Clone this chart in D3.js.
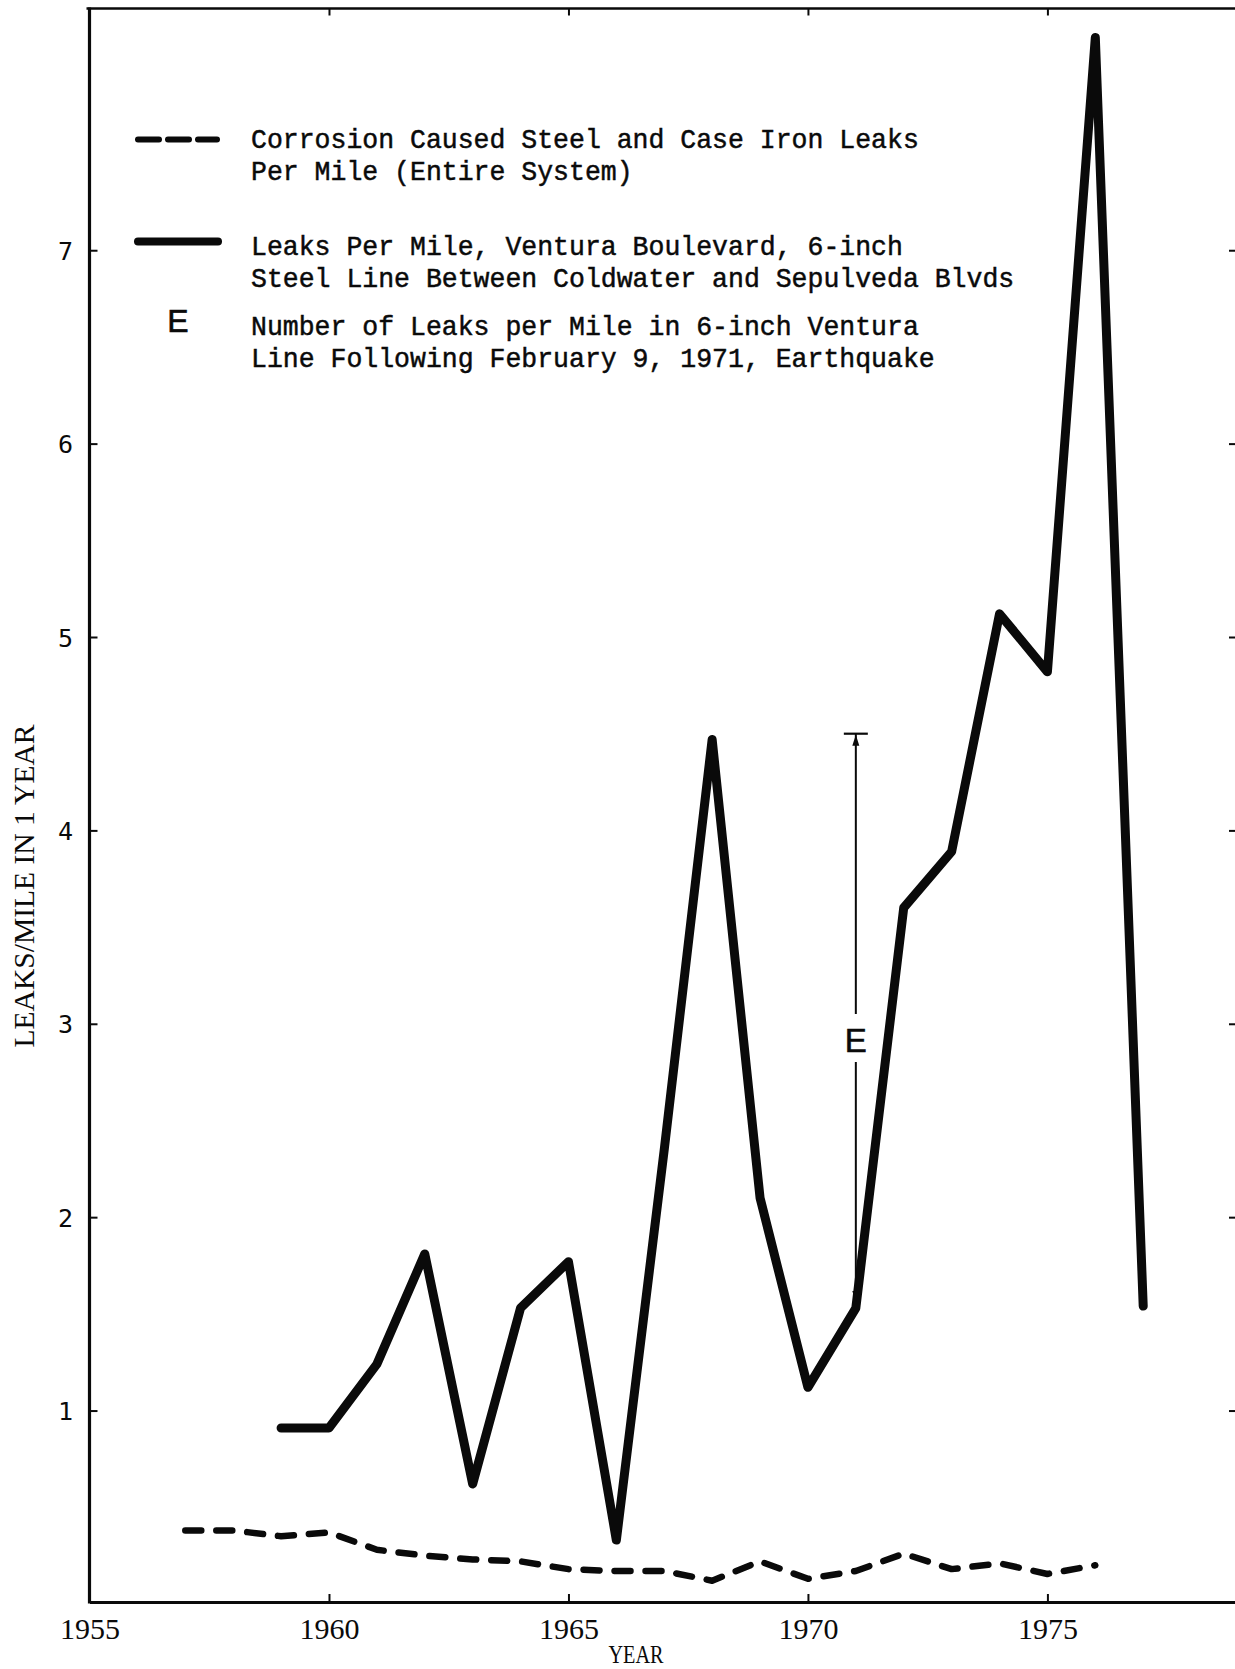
<!DOCTYPE html>
<html>
<head>
<meta charset="utf-8">
<script src="https://cdn.jsdelivr.net/npm/d3@7"></script>
<style>
  html, body { margin: 0; padding: 0; background: #fff; }
  svg { display: block; }
</style>
</head>
<body>
<svg id="chart" width="1235" height="1669"></svg>
<script>
// Corrosion-caused steel and cast iron leaks per mile, entire system
const systemYears = [1957, 1958, 1959, 1960, 1961, 1962, 1963, 1964, 1965, 1966,
                     1967, 1968, 1969, 1970, 1971, 1972, 1973, 1974, 1975, 1976];
const systemLeaks = [0.38, 0.38, 0.35, 0.37, 0.28, 0.25, 0.23, 0.22, 0.18, 0.17,
                     0.17, 0.12, 0.22, 0.13, 0.17, 0.26, 0.18, 0.21, 0.155, 0.20];

// Leaks per mile, Ventura Boulevard 6-inch steel line
const venturaYears = [1959, 1960, 1961, 1962, 1963, 1964, 1965, 1966, 1967, 1968,
                      1969, 1970, 1971, 1972, 1973, 1974, 1975, 1976, 1977];
const venturaLeaks = [0.91, 0.91, 1.24, 1.81, 0.62, 1.53, 1.77, 0.33, 2.35, 4.47,
                      2.10, 1.12, 1.53, 3.60, 3.89, 5.12, 4.82, 8.1, 1.54];

// Earthquake increment (February 9, 1971)
const quakeYear = 1971;
const quakeTop = 4.5;

const xTickValues = [1955, 1960, 1965, 1970, 1975];
const xInnerTicks = [1960, 1965, 1970, 1975];
const yTickValues = [1, 2, 3, 4, 5, 6, 7];

const legendText = [
  "Corrosion Caused Steel and Case Iron Leaks",
  "Per Mile (Entire System)",
  "Leaks Per Mile, Ventura Boulevard, 6-inch",
  "Steel Line Between Coldwater and Sepulveda Blvds",
  "Number of Leaks per Mile in 6-inch Ventura",
  "Line Following February 9, 1971, Earthquake"
];
const legendBaselines = [148, 180, 254.5, 286.5, 334.5, 367];

const svg = d3.select("#chart");

const x = d3.scaleLinear().domain([1955, 1979]).range([89.5, 1239]);
const y = d3.scaleLinear().domain([0.01, 8.25]).range([1602, 8.5]);

const ink = "#0a0a0a";

// ---- frame and axes ----
const axisBottomG = svg.append("g")
  .attr("transform", `translate(0,${y.range()[0]})`)
  .call(d3.axisBottom(x).tickValues(xTickValues).tickSizeInner(-8).tickSizeOuter(0)
        .tickFormat(d3.format("d")));
axisBottomG.select(".domain").attr("stroke", ink).attr("stroke-width", 3.2);
axisBottomG.selectAll(".tick line").attr("stroke", ink).attr("stroke-width", 2);
axisBottomG.selectAll(".tick text")
  .attr("y", 37).attr("dy", 0)
  .attr("fill", ink)
  .attr("textLength", 60).attr("lengthAdjust", "spacingAndGlyphs")
  .style("font-family", "'Liberation Serif', serif")
  .style("font-size", "30px");

const axisLeftG = svg.append("g")
  .attr("transform", `translate(${x.range()[0]},0)`)
  .call(d3.axisLeft(y).tickValues(yTickValues).tickSizeInner(-8).tickSizeOuter(0)
        .tickFormat(d3.format("d")));
axisLeftG.select(".domain").attr("stroke", ink).attr("stroke-width", 3.2)
  .attr("d", `M0,${y.range()[0] + 1.5}V${y.range()[1] - 1}`);
axisLeftG.selectAll(".tick line").attr("stroke", ink).attr("stroke-width", 2);
axisLeftG.selectAll(".tick text")
  .attr("x", -24).attr("dy", "0.36em")
  .attr("text-anchor", "middle")
  .attr("fill", ink)
  .style("font-family", "'DejaVu Sans Mono', monospace")
  .style("font-size", "25px");

const axisTopG = svg.append("g")
  .attr("transform", `translate(0,${y.range()[1]})`)
  .call(d3.axisTop(x).tickValues(xInnerTicks).tickSizeInner(-7).tickSizeOuter(0)
        .tickFormat(() => ""));
axisTopG.select(".domain").attr("stroke", ink).attr("stroke-width", 2.6)
  .attr("d", `M${x.range()[0] - 3},0H${x.range()[1]}`);
axisTopG.selectAll(".tick line").attr("stroke", ink).attr("stroke-width", 2);

const axisRightG = svg.append("g")
  .attr("transform", `translate(${x.range()[1]},0)`)
  .call(d3.axisRight(y).tickValues(yTickValues).tickSizeInner(-10).tickSizeOuter(0)
        .tickFormat(() => ""));
axisRightG.select(".domain").attr("stroke", ink).attr("stroke-width", 3);
axisRightG.selectAll(".tick line").attr("stroke", ink).attr("stroke-width", 2);

// axis titles
svg.append("text")
  .attr("x", 636).attr("y", 1663)
  .attr("text-anchor", "middle")
  .attr("textLength", 55).attr("lengthAdjust", "spacingAndGlyphs")
  .attr("fill", ink)
  .style("font-family", "'Liberation Serif', serif")
  .style("font-size", "26px")
  .text("YEAR");

svg.append("text")
  .attr("transform", "translate(34,886) rotate(-90)")
  .attr("text-anchor", "middle")
  .attr("textLength", 323).attr("lengthAdjust", "spacingAndGlyphs")
  .attr("fill", ink)
  .style("font-family", "'Liberation Serif', serif")
  .style("font-size", "30px")
  .text("LEAKS/MILE IN 1 YEAR");

// ---- data lines ----
const line = d3.line().x(d => x(d[0])).y(d => y(d[1]));

svg.append("path")
  .datum(systemYears.map((yr, i) => [yr, systemLeaks[i]]))
  .attr("d", line)
  .attr("fill", "none")
  .attr("stroke", ink)
  .attr("stroke-width", 6.5)
  .attr("stroke-linecap", "round")
  .attr("stroke-linejoin", "round")
  .attr("stroke-dasharray", "16,15");

svg.append("path")
  .datum(venturaYears.map((yr, i) => [yr, venturaLeaks[i]]))
  .attr("d", line)
  .attr("fill", "none")
  .attr("stroke", ink)
  .attr("stroke-width", 9)
  .attr("stroke-linecap", "round")
  .attr("stroke-linejoin", "round");

// ---- earthquake increment marker ----
const qx = x(quakeYear);
const qBase = venturaLeaks[venturaYears.indexOf(quakeYear)];
const qTopY = y(quakeTop);
const qTipY = y(qBase) - 6;
const eBaseline = 1052;
const eq = svg.append("g").attr("stroke", ink).attr("fill", ink);
eq.append("line").attr("x1", qx - 12).attr("x2", qx + 12).attr("y1", qTopY).attr("y2", qTopY)
  .attr("stroke-width", 2.2);
eq.append("line").attr("x1", qx).attr("x2", qx).attr("y1", qTopY).attr("y2", eBaseline - 38)
  .attr("stroke-width", 2);
eq.append("line").attr("x1", qx).attr("x2", qx).attr("y1", eBaseline + 10).attr("y2", qTipY - 8)
  .attr("stroke-width", 2);
eq.append("path")
  .attr("d", `M${qx},${qTopY + 1}L${qx - 3.5},${qTopY + 12}L${qx + 3.5},${qTopY + 12}Z`)
  .attr("stroke", "none");
eq.append("path")
  .attr("d", `M${qx},${qTipY}L${qx - 3.5},${qTipY - 11}L${qx + 3.5},${qTipY - 11}Z`)
  .attr("stroke", "none");
svg.append("text")
  .attr("x", qx).attr("y", eBaseline)
  .attr("text-anchor", "middle")
  .attr("fill", ink).attr("stroke", ink).attr("stroke-width", 0.6)
  .style("font-family", "'Liberation Sans', sans-serif")
  .style("font-size", "33px")
  .text("E");

// ---- legend ----
const legend = svg.append("g");
legend.append("line")
  .attr("x1", 138).attr("x2", 217).attr("y1", 139.5).attr("y2", 139.5)
  .attr("stroke", ink).attr("stroke-width", 6)
  .attr("stroke-linecap", "round")
  .attr("stroke-dasharray", "21,9");
legend.append("line")
  .attr("x1", 138).attr("x2", 218).attr("y1", 241.5).attr("y2", 241.5)
  .attr("stroke", ink).attr("stroke-width", 8)
  .attr("stroke-linecap", "round");
legend.append("text")
  .attr("x", 178).attr("y", 332)
  .attr("text-anchor", "middle")
  .attr("fill", ink).attr("stroke", ink).attr("stroke-width", 0.6)
  .style("font-family", "'Liberation Sans', sans-serif")
  .style("font-size", "32px")
  .text("E");

legend.selectAll("text.entry")
  .data(legendText)
  .join("text")
  .attr("class", "entry")
  .attr("x", 251)
  .attr("y", (d, i) => legendBaselines[i])
  .attr("textLength", d => d.length * 15.9)
  .attr("lengthAdjust", "spacingAndGlyphs")
  .attr("fill", ink)
  .attr("stroke", ink).attr("stroke-width", 0.5)
  .style("font-family", "'Liberation Mono', monospace")
  .style("font-size", "28px")
  .text(d => d);
</script>
</body>
</html>
